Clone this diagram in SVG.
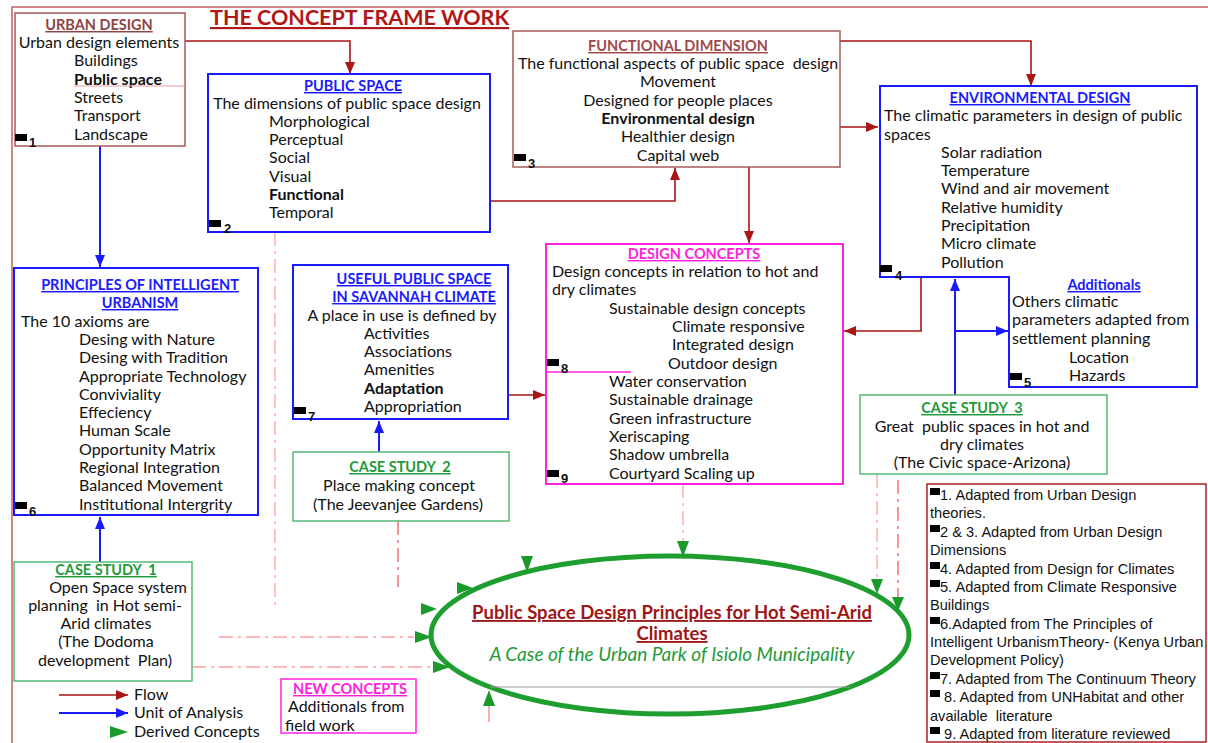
<svg xmlns="http://www.w3.org/2000/svg" width="1208" height="743" viewBox="0 0 1208 743" xml:space="preserve">
<defs>
<style>
text{font-family:Lato,"Open Sans",sans-serif;font-size:16px;fill:#111;white-space:pre}
.c{text-anchor:middle}
.b{font-weight:bold}
.h{font-weight:bold;text-decoration:underline;font-size:14.5px}
.hb{fill:#1a1aff}.hr{fill:#8f4444}.hm{fill:#ff22dd}.hg{fill:#1f9a3a}
.n{font-family:"Liberation Sans",Arial,sans-serif;font-size:13px;font-weight:bold}
.lg{font-family:"Liberation Sans",Arial,sans-serif;font-size:14.6px}
.bx{fill:#fff}
.bl{stroke:#1a1aff;stroke-width:2}
.br{stroke:#a85a5a;stroke-width:1.5}
.bg{stroke:#55bb77;stroke-width:1.5}
.bm{stroke:#ff22dd;stroke-width:2}
.fl{fill:none;stroke:#aa1515;stroke-width:1.6}
.ua{fill:none;stroke:#1a1aff;stroke-width:2}
.ds{fill:none;stroke:#ffa0a0;stroke-width:1.3;stroke-dasharray:14 5 3 5}
.dr{fill:none;stroke:#ff5a5a;stroke-width:1.3;stroke-dasharray:14 5 3 5}
.ga{fill:#1a9a2a}
</style>
<marker id="mr" viewBox="0 0 12 10" refX="12" refY="5" markerWidth="12" markerHeight="10" markerUnits="userSpaceOnUse" orient="auto"><path d="M0,0 L12,5 L0,10 Z" fill="#aa1515"/></marker>
<marker id="mb" viewBox="0 0 12 10" refX="12" refY="5" markerWidth="12" markerHeight="10" markerUnits="userSpaceOnUse" orient="auto"><path d="M0,0 L12,5 L0,10 Z" fill="#1a1aff"/></marker>
</defs>
<rect width="1208" height="743" fill="#fff"/>
<rect x="12" y="7" width="1210" height="750" fill="none" stroke="#c06060" stroke-width="1.5"/>
<text x="210" y="25" style="font-size:21.5px;font-weight:bold;fill:#b01818;text-decoration:underline">THE CONCEPT FRAME WORK</text>

<g id="connectors">
<path class="fl" d="M185,41 H350 V74" marker-end="url(#mr)"/>
<path class="fl" d="M267,201 H675 V168" marker-end="url(#mr)"/>
<path class="fl" d="M596,127 H878" marker-end="url(#mr)"/>
<path class="fl" d="M840,41 H1031 V86" marker-end="url(#mr)"/>
<path class="fl" d="M749,167 V243" marker-end="url(#mr)"/>
<path class="fl" d="M921,278 V331 H844" marker-end="url(#mr)"/>
<path class="fl" d="M358,395 H545" marker-end="url(#mr)"/>
<path class="ua" d="M955,395 V279" marker-end="url(#mb)"/>
<path class="ua" d="M955,331 H1008" marker-end="url(#mb)"/>
<path class="ua" d="M100,146 V267" marker-end="url(#mb)"/>
<path class="ua" d="M100,562 V517" marker-end="url(#mb)"/>
<path class="ua" d="M379,452 V421" marker-end="url(#mb)"/>
<path class="ds" d="M275,232 V610"/>
<path class="ds" d="M219,637 H414"/>
<path class="ds" d="M192,667 H432"/>
<path class="dr" d="M398,521 V587"/>
<path class="ds" d="M683,484 V541"/>
<path class="ds" d="M877,474 V579"/>
<path class="dr" d="M898,480 V597"/>
<path d="M489,706 V722" stroke="#ff8080" stroke-width="1.3"/>
<path class="fl" d="M59,695 H128" marker-end="url(#mr)"/>
<path class="ua" d="M59,713 H128" marker-end="url(#mb)"/>
</g>

<g id="urban-design">
<rect class="bx br" x="15" y="13" width="170" height="133"/>
<text class="c h hr" x="99" y="30">URBAN DESIGN</text>
<text class="c" x="99" y="48">Urban design elements</text>
<text x="74" y="66">Buildings</text>
<text class="b" x="74" y="85">Public space</text>
<line x1="74" y1="86" x2="185" y2="86" stroke="#e8a0a0" stroke-width="1"/>
<text x="74" y="103">Streets</text>
<text x="74" y="121">Transport</text>
<text x="74" y="140">Landscape</text>
<rect x="15" y="134" width="12" height="7"/><text class="n" x="29" y="147">1</text>
</g>

<g id="public-space">
<rect class="bx bl" x="208" y="74" width="282" height="158"/>
<text class="c h hb" x="353" y="91">PUBLIC SPACE</text>
<text class="c" x="347" y="109">The dimensions of public space design</text>
<text x="269" y="127">Morphological</text>
<text x="269" y="145">Perceptual</text>
<text x="269" y="163">Social</text>
<text x="269" y="182">Visual</text>
<text class="b" x="269" y="200">Functional</text>
<text x="269" y="218">Temporal</text>
<rect x="209" y="220" width="12" height="7"/><text class="n" x="224" y="233">2</text>
</g>

<g id="functional-dimension">
<rect class="bx br" x="513" y="31" width="327" height="136"/>
<text class="c h hr" x="678" y="51" style="fill:#a04848">FUNCTIONAL DIMENSION</text>
<text class="c" x="678" y="69">The functional aspects of public space  design</text>
<text class="c" x="678" y="87">Movement</text>
<text class="c" x="678" y="106">Designed for people places</text>
<text class="c b" x="678" y="124">Environmental design</text>
<text class="c" x="678" y="142">Healthier design</text>
<text class="c" x="678" y="161">Capital web</text>
<rect x="514" y="154" width="12" height="7"/><text class="n" x="528" y="168">3</text>
</g>

<g id="environmental-design">
<path class="bx bl" d="M880,86 H1197 V387 H1009 V277 H880 Z"/>
<text class="c h hb" x="1040" y="103">ENVIRONMENTAL DESIGN</text>
<text x="884" y="121">The climatic parameters in design of public</text>
<text x="884" y="140">spaces</text>
<text x="941" y="158">Solar radiation</text>
<text x="941" y="176">Temperature</text>
<text x="941" y="194">Wind and air movement</text>
<text x="941" y="213">Relative humidity</text>
<text x="941" y="231">Precipitation</text>
<text x="941" y="249">Micro climate</text>
<text x="941" y="268">Pollution</text>
<rect x="880" y="265" width="12" height="7"/><text class="n" x="895" y="280">4</text>
</g>

<g id="additionals">
<text class="c h hb" x="1104" y="290">Additionals</text>
<text x="1012" y="307">Others climatic</text>
<text x="1012" y="325">parameters adapted from</text>
<text x="1012" y="344">settlement planning</text>
<text x="1069" y="363">Location</text>
<text x="1069" y="381">Hazards</text>
<rect x="1010" y="373" width="12" height="7"/><text class="n" x="1024" y="387">5</text>
</g>

<g id="design-concepts">
<rect class="bx bm" x="546" y="244" width="297" height="240"/>
<text class="c h hm" x="694" y="259">DESIGN CONCEPTS</text>
<text x="552" y="277">Design concepts in relation to hot and</text>
<text x="552" y="295">dry climates</text>
<text x="609" y="314">Sustainable design concepts</text>
<text x="672" y="332">Climate responsive</text>
<text x="672" y="350">Integrated design</text>
<text x="668" y="369">Outdoor design</text>
<line x1="546" y1="372" x2="631" y2="372" stroke="#ff22dd" stroke-width="1.5"/>
<text x="609" y="387">Water conservation</text>
<text x="609" y="405">Sustainable drainage</text>
<text x="609" y="424">Green infrastructure</text>
<text x="609" y="442">Xeriscaping</text>
<text x="609" y="460">Shadow umbrella</text>
<text x="609" y="479">Courtyard Scaling up</text>
<rect x="547" y="359" width="12" height="7"/><text class="n" x="561" y="373">8</text>
<rect x="547" y="470" width="12" height="7"/><text class="n" x="561" y="483">9</text>
</g>

<g id="useful-public-space">
<rect class="bx bl" x="293" y="265" width="215" height="154"/>
<text class="c h hb" x="414" y="284">USEFUL PUBLIC SPACE</text>
<text class="c h hb" x="414" y="302">IN SAVANNAH CLIMATE</text>
<text class="c" x="402" y="321">A place in use is defined by</text>
<text x="364" y="339">Activities</text>
<text x="364" y="357">Associations</text>
<text x="364" y="375">Amenities</text>
<text class="b" x="364" y="394">Adaptation</text>
<text x="364" y="412">Appropriation</text>
<rect x="294" y="407" width="12" height="7"/><text class="n" x="308" y="421">7</text>
</g>

<g id="principles">
<rect class="bx bl" x="14" y="268" width="244" height="247"/>
<text class="c h hb" x="140" y="290">PRINCIPLES OF INTELLIGENT</text>
<text class="c h hb" x="140" y="308">URBANISM</text>
<text x="21" y="327">The 10 axioms are</text>
<text x="79" y="345">Desing with Nature</text>
<text x="79" y="363">Desing with Tradition</text>
<text x="79" y="382">Appropriate Technology</text>
<text x="79" y="400">Conviviality</text>
<text x="79" y="418">Effeciency</text>
<text x="79" y="436">Human Scale</text>
<text x="79" y="455">Opportunity Matrix</text>
<text x="79" y="473">Regional Integration</text>
<text x="79" y="491">Balanced Movement</text>
<text x="79" y="510">Institutional Intergrity</text>
<rect x="15" y="502" width="12" height="7"/><text class="n" x="29" y="516">6</text>
</g>

<g id="case-study-1">
<rect class="bx bg" x="14" y="562" width="178" height="119"/>
<text class="c h hg" x="106" y="575">CASE STUDY  1</text>
<text class="c" x="118" y="593">Open Space system</text>
<text class="c" x="105" y="611">planning  in Hot semi-</text>
<text class="c" x="106" y="629">Arid climates</text>
<text class="c" x="106" y="647">(The Dodoma</text>
<text class="c" x="105" y="666">development  Plan)</text>
</g>

<g id="case-study-2">
<rect class="bx bg" x="293" y="452" width="216" height="69"/>
<text class="c h hg" x="400" y="472">CASE STUDY  2</text>
<text class="c" x="399" y="491">Place making concept</text>
<text class="c" x="398" y="510">(The Jeevanjee Gardens)</text>
</g>

<g id="case-study-3">
<rect class="bx bg" x="860" y="395" width="247" height="79"/>
<text class="c h hg" x="972" y="413">CASE STUDY  3</text>
<text class="c" x="982" y="432">Great  public spaces in hot and</text>
<text class="c" x="982" y="450">dry climates</text>
<text class="c" x="982" y="468">(The Civic space-Arizona)</text>
</g>

<g id="new-concepts">
<rect class="bx bm" x="281" y="679" width="135" height="54" style="stroke-width:1.5"/>
<text class="c h hm" x="350" y="694">NEW CONCEPTS</text>
<text x="288" y="712">Additionals from</text>
<text x="285" y="731">field work</text>
</g>

<g id="outcome">
<ellipse cx="670" cy="635" rx="239" ry="79" fill="#fff" stroke="#1e9e2e" stroke-width="5"/>
<line x1="490" y1="687" x2="850" y2="687" stroke="#999" stroke-width="1"/>
<text class="c" x="672" y="619" style="font-size:18.5px;font-weight:bold;fill:#a01515;text-decoration:underline">Public Space Design Principles for Hot Semi-Arid</text>
<text class="c" x="672" y="640" style="font-size:18.5px;font-weight:bold;fill:#a01515;text-decoration:underline">Climates</text>
<text class="c" x="672" y="661" style="font-size:19px;font-style:italic;fill:#1f9a3a">A Case of the Urban Park of Isiolo Municipality</text>
</g>

<g id="derived-arrows">
<polygon class="ga" points="677,541 689,541 683,557"/>
<polygon class="ga" points="521,556 533,556 527,572"/>
<polygon class="ga" points="457,582 457,594 473,588"/>
<polygon class="ga" points="421,603 421,615 437,609"/>
<polygon class="ga" points="415,631 415,643 432,637"/>
<polygon class="ga" points="433,661 433,673 450,667"/>
<polygon class="ga" points="483,706 495,706 489,690"/>
<polygon class="ga" points="871,579 883,579 877,594"/>
<polygon class="ga" points="892,597 904,597 898,611"/>
</g>

<g id="legend">
<polygon class="ga" points="110,726 110,738 128,732"/>
<text x="134" y="700">Flow</text>
<text x="134" y="718">Unit of Analysis</text>
<text x="134" y="737">Derived Concepts</text>
</g>

<g id="sources">
<rect x="927" y="484" width="279" height="258" fill="#fff" stroke="#b02020" stroke-width="1.5"/>
<rect x="930" y="488" width="10" height="7"/><text class="lg" x="940" y="500">1. Adapted from Urban Design</text>
<text class="lg" x="930" y="518">theories.</text>
<rect x="930" y="525" width="10" height="7"/><text class="lg" x="940" y="537">2 &amp; 3. Adapted from Urban Design</text>
<text class="lg" x="930" y="555">Dimensions</text>
<rect x="930" y="562" width="10" height="7"/><text class="lg" x="940" y="574">4. Adapted from Design for Climates</text>
<rect x="930" y="580" width="10" height="7"/><text class="lg" x="940" y="592">5. Adapted from Climate Responsive</text>
<text class="lg" x="930" y="610">Buildings</text>
<rect x="930" y="617" width="10" height="7"/><text class="lg" x="940" y="629">6.Adapted from The Principles of</text>
<text class="lg" x="930" y="647">Intelligent UrbanismTheory- (Kenya Urban</text>
<text class="lg" x="930" y="665">Development Policy)</text>
<rect x="930" y="672" width="10" height="7"/><text class="lg" x="940" y="684">7. Adapted from The Continuum Theory</text>
<rect x="930" y="690" width="10" height="7"/><text class="lg" x="940" y="702"> 8. Adapted from UNHabitat and other</text>
<text class="lg" x="930" y="721">available  literature</text>
<rect x="930" y="727" width="10" height="7"/><text class="lg" x="940" y="739"> 9. Adapted from literature reviewed</text>
</g>
</svg>
